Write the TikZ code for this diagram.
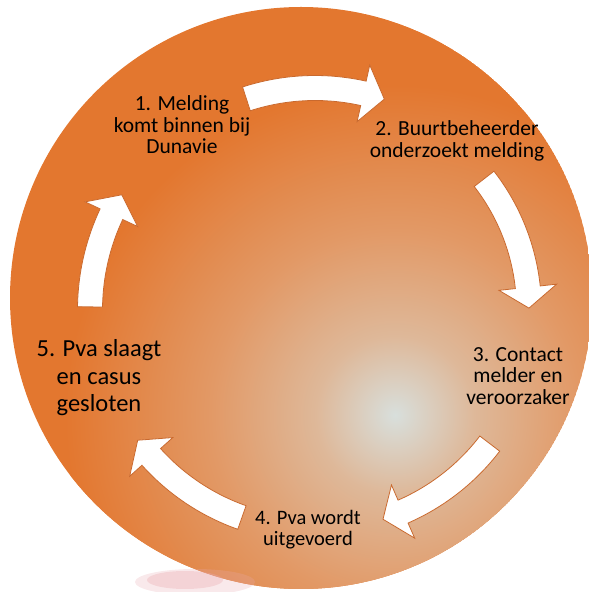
\documentclass[tikz,border=0pt]{standalone}
\usepackage{fontspec}
\setmainfont{Carlito}
\definecolor{orangebg}{HTML}{E3772F}
\definecolor{glowA}{HTML}{D8DFDC}
\definecolor{glowB}{HTML}{DEB899}
\definecolor{glowC}{HTML}{E29966}
\definecolor{arrowline}{HTML}{C9692E}
\definecolor{blob}{HTML}{E9A9B0}
\pgfdeclareradialshading{glow}{\pgfpoint{0bp}{0bp}}{color(0bp)=(glowA); color(6bp)=(glowB); color(14bp)=(glowC); color(25bp)=(orangebg); color(50bp)=(orangebg)}
\tikzset{
  cyclearrow/.style={fill=white, draw=arrowline, line width=0.8pt, line join=miter},
  lbl/.style={align=center, font=\fontsize{21.5}{21.5}\selectfont, text=black, inner sep=0pt},
  lblsmall/.style={align=center, font=\fontsize{20.5}{21}\selectfont, text=black, inner sep=0pt},
  lblbig/.style={align=center, font=\fontsize{24.5}{27.5}\selectfont, text=black, inner sep=0pt}
}
\newcommand\cycarrow[3]{%
  \draw[cyclearrow] (#1:{#3+12.5}) arc[start angle=#1, end angle=#2, radius={#3+12.5}]
    -- (#2:{#3+29}) -- ({#2-5.6}:#3) -- (#2:{#3-29}) -- (#2:{#3-12.5})
    arc[start angle=#2, end angle=#1, radius={#3-12.5}] -- cycle;}
\begin{document}
\begin{tikzpicture}[x=1pt,y=1pt]
\useasboundingbox (0,0) rectangle (589,592);
\begin{scope}
  \clip (301,294) circle[radius=291];
  \fill[orangebg] (301,294) circle[radius=291];
  \shade[shading=glow] (395,177) circle[radius=330];
\end{scope}
% faint pink blot below the disc
\fill[blob, opacity=0.25] (195,10) ellipse[x radius=60, y radius=13];
\fill[blob, opacity=0.35] (185,12) ellipse[x radius=38, y radius=9];
% arrows
\begin{scope}[shift={(315,282)}]
  \cycarrow{108}{77.4}{222}
  \cycarrow{37.8}{6.1}{214}
  \cycarrow{-37.4}{-66.4}{220}
  \cycarrow{-109.4}{-138.1}{220}
  \cycarrow{179.2}{154.8}{225}
\end{scope}
% labels
\node[lbl] (m1) at (182,467) {1. Melding\\komt binnen bij\\Dunavie};
\node[lbl] (m2) at (457,451) {2. Buurtbeheerder\\onderzoekt melding};
\node[lbl] (m3) at (518,216) {3. Contact\\melder en\\veroorzaker};
\node[lblsmall] (m4) at (308,62) {4. Pva wordt\\uitgevoerd};
\node[lblbig] (m5) at (99,214) {5. Pva slaagt\\en casus\\gesloten};
\end{tikzpicture}
\end{document}
